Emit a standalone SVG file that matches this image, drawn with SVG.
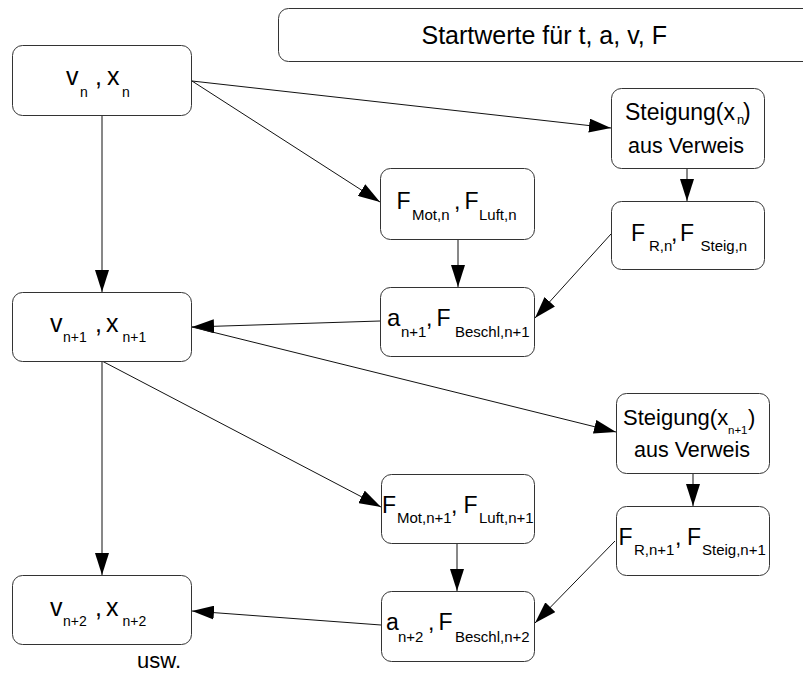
<svg xmlns="http://www.w3.org/2000/svg" width="803" height="673" viewBox="0 0 803 673">
<defs>
<marker id="ah" markerUnits="userSpaceOnUse" markerWidth="22" markerHeight="14" refX="22" refY="7" orient="auto">
<path d="M0,0 L22,7 L0,14 z" fill="#000"/>
</marker>
<style>
.box{fill:#fff;stroke:#333;stroke-width:1}
.t{font-family:"Liberation Sans",Arial,sans-serif;fill:#000}
.m{font-size:23px}
.s{font-size:15px}
.c{stroke:#111;stroke-width:1;fill:none;marker-end:url(#ah)}
</style>
</defs>
<rect width="803" height="673" fill="#fff"/>
<g id="start">
<rect class="box" x="278.5" y="8.5" width="540" height="53" rx="10"/>
<text class="t" x="421.5" y="44" font-size="25">Startwerte für t, a, v, F</text>
</g>
<g id="connectors">
<path class="c" d="M192,81 L611,128"/>
<path class="c" d="M192,81 L380,202"/>
<path class="c" d="M102,115 L102,292"/>
<path class="c" d="M687,168 L687,201"/>
<path class="c" d="M458,239 L458,287"/>
<path class="c" d="M611,234 L535,318"/>
<path class="c" d="M380,321 L192,327"/>
<path class="c" d="M192,327 L616,432"/>
<path class="c" d="M102,361 L381,507"/>
<path class="c" d="M102,361 L102,575"/>
<path class="c" d="M693,473 L693,506"/>
<path class="c" d="M457,543 L457,591"/>
<path class="c" d="M615,541 L535,623"/>
<path class="c" d="M381,625 L192,611"/>
</g>
<g id="vn">
<rect class="box" x="12.5" y="45.5" width="179" height="70" rx="10"/>
<text class="t" font-size="25"><tspan x="66" y="85">v</tspan><tspan font-size="14" x="80" y="96.5">n</tspan><tspan x="95" y="85">,</tspan><tspan x="107" y="85">x</tspan><tspan font-size="14" x="122" y="96.5">n</tspan></text>
</g>
<g id="vn1">
<rect class="box" x="12.5" y="292.5" width="179" height="69" rx="10"/>
<text class="t" font-size="25"><tspan x="50" y="332">v</tspan><tspan font-size="14" x="63" y="342">n+1</tspan><tspan x="95" y="332">,</tspan><tspan x="106" y="332">x</tspan><tspan font-size="14" x="122.5" y="342">n+1</tspan></text>
</g>
<g id="vn2">
<rect class="box" x="12.5" y="575.5" width="179" height="69" rx="10"/>
<text class="t" font-size="25"><tspan x="50" y="616">v</tspan><tspan font-size="14" x="63" y="626">n+2</tspan><tspan x="95" y="616">,</tspan><tspan x="106" y="616">x</tspan><tspan font-size="14" x="122.5" y="626">n+2</tspan></text>
<text class="t" x="137" y="668" font-size="22">usw.</text>
</g>
<g id="steig_n">
<rect class="box" x="611.5" y="88.5" width="153" height="80" rx="10"/>
<text class="t" font-size="23"><tspan x="625" y="120">Steigung(x</tspan><tspan font-size="13" x="737" y="124">n</tspan><tspan x="743" y="120">)</tspan></text>
<text class="t" font-size="21.5" x="628" y="153">aus Verweis</text>
</g>
<g id="fmot_n">
<rect class="box" x="380.5" y="168.5" width="154" height="71" rx="10"/>
<text class="t m"><tspan x="396.5" y="209">F</tspan><tspan class="s" x="412" y="220">Mot,n</tspan><tspan x="454" y="209">,</tspan><tspan x="464.5" y="209">F</tspan><tspan class="s" x="479" y="220">Luft,n</tspan></text>
</g>
<g id="fr_n">
<rect class="box" x="611.5" y="201.5" width="153" height="68" rx="10"/>
<text class="t m"><tspan x="631" y="240.5">F</tspan><tspan class="s" font-size="14" x="649" y="250.5">R,n</tspan><tspan x="671" y="240.5">,</tspan><tspan x="680" y="240.5">F</tspan><tspan class="s" font-size="14" x="700.5" y="250.5">Steig,n</tspan></text>
</g>
<g id="a_n1">
<rect class="box" x="380.5" y="287.5" width="154" height="69" rx="10"/>
<text class="t m"><tspan x="387" y="326" font-size="24">a</tspan><tspan class="s" font-size="14.5" x="401" y="336.5">n+1</tspan><tspan x="426" y="326">,</tspan><tspan x="436.5" y="326">F</tspan><tspan class="s" font-size="14.5" x="455" y="336.5">Beschl,n+1</tspan></text>
</g>
<g id="steig_n1">
<rect class="box" x="616.5" y="393.5" width="153" height="80" rx="10"/>
<text class="t" font-size="22"><tspan x="623" y="425">Steigung(x</tspan><tspan font-size="11.5" x="728" y="434">n+1</tspan><tspan x="748" y="425">)</tspan></text>
<text class="t" font-size="21.5" x="634" y="457">aus Verweis</text>
</g>
<g id="fmot_n1">
<rect class="box" x="381.5" y="474.5" width="153" height="69" rx="10"/>
<text class="t m"><tspan x="382" y="512.5">F</tspan><tspan class="s" font-size="14.3" x="397" y="523">Mot,n+1</tspan><tspan x="451" y="512.5">,</tspan><tspan x="463.5" y="512.5">F</tspan><tspan class="s" font-size="14.3" x="479" y="523">Luft,n+1</tspan></text>
</g>
<g id="fr_n1">
<rect class="box" x="616.5" y="506.5" width="153" height="69" rx="10"/>
<text class="t m"><tspan x="618.5" y="545">F</tspan><tspan class="s" font-size="14" x="634" y="555">R,n+1</tspan><tspan x="675" y="545">,</tspan><tspan x="687" y="545">F</tspan><tspan class="s" font-size="14.5" x="702" y="555">Steig,n+1</tspan></text>
</g>
<g id="a_n2">
<rect class="box" x="381.5" y="591.5" width="153" height="70" rx="10"/>
<text class="t m"><tspan x="386" y="630" font-size="23">a</tspan><tspan class="s" font-size="14.5" x="398" y="641.5">n+2</tspan><tspan x="428" y="630">,</tspan><tspan x="438.5" y="630">F</tspan><tspan class="s" font-size="14.5" x="455" y="641.5">Beschl,n+2</tspan></text>
</g>
</svg>
